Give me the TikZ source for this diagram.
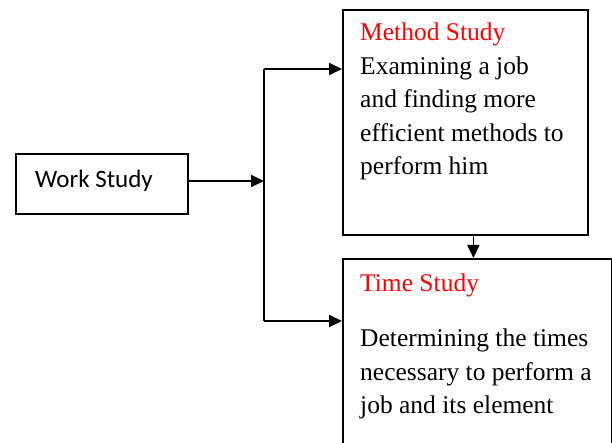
\documentclass[tikz,border=0pt]{standalone}
\usepackage{fontspec}
\setmainfont{Liberation Serif}
\newfontfamily\boxfont{Carlito}
\usetikzlibrary{arrows.meta,positioning}
\tikzset{
	studybox/.style={draw, black, line width=1.8pt, anchor=north west, inner sep=0pt},
	bodytext/.style={anchor=base west, inner sep=0pt, font=\fontsize{25.5}{30}\selectfont},
	headtext/.style={bodytext, text=red},
	link/.style={black, line width=1.8pt, -{Triangle[length=13pt,width=12pt]}}
}
\begin{document}
\begin{tikzpicture}[x=1pt, y=-1pt]
	\useasboundingbox (0, 0) rectangle (612, 443);
	% boxes
	\node[studybox, minimum width=172pt, minimum height=60pt] (ws) at (15, 153) {};
	\node[studybox, minimum width=245pt, minimum height=225pt] (ms) at (342, 9) {};
	\node[studybox, minimum width=269pt, minimum height=212pt] (ts) at (342, 258) {};
	% texts
	\node[anchor=base west, inner sep=0pt, font=\boxfont\fontsize{25}{30}\selectfont] (wstext) at (35, 188) {Work Study};
	\node[headtext] (mshead) at (360, 41) {Method Study};
	\foreach \line [count=\i] in {Examining a job, and finding more, efficient methods to, perform him}
		\node[bodytext] (ms\i) at (360, 41+33.5*\i) {\line};
	\node[headtext] (tshead) at (360, 291) {Time Study};
	\foreach \line [count=\i] in {Determining the times, necessary to perform a, job and its element}
		\node[bodytext] (ts\i) at (360, 313+33.5*\i) {\line};
	% connectors
	\coordinate (split) at (264, 181);
	\coordinate (top) at (264, 69);
	\coordinate (bot) at (264, 321);
	\draw[link] (ws.east |- split) -- (split);
	\draw[black, line width=1.8pt] (top) -- (bot);
	\draw[link] (top) -- (top -| ms.west);
	\draw[link] (bot) -- (bot -| ts.west);
	\draw[link] ([xshift=8pt]ms.south) -- ([xshift=8pt]ms.south |- ts.north);
\end{tikzpicture}
\end{document}
